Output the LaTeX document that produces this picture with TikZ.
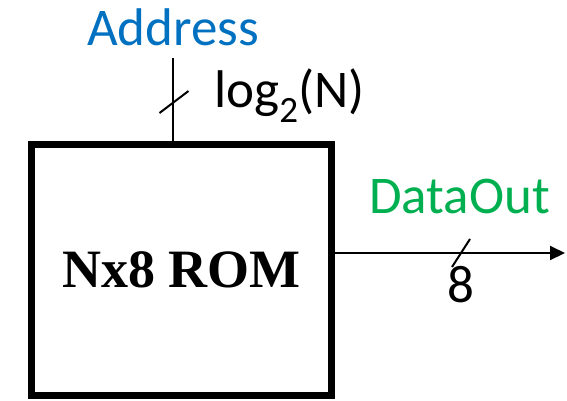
\documentclass[tikz,border=0pt]{standalone}
\usepackage{fontspec}
\setmainfont{Liberation Serif}
\newfontfamily\carlito{Carlito}
\usepackage{tikz}
\usetikzlibrary{calc,arrows.meta}
\definecolor{addrblue}{HTML}{0070C0}
\definecolor{outgreen}{HTML}{00B050}

\tikzset{
  rombox/.style={draw,line width=7pt,minimum width=300.5pt,minimum height=251.5pt,
    inner sep=0pt,font=\bfseries\fontsize{54}{54}\selectfont},
  wire/.style={line width=2pt},
  lbl/.style={anchor=base west,inner sep=0pt,font=\carlito\fontsize{53}{53}\selectfont}
}

\begin{document}
\begin{tikzpicture}[x=1pt,y=-1pt]
  \useasboundingbox (0,0) rectangle (567,400);
  \node[rombox] (rom) at (181.25,269.75) {Nx8 ROM};
  % address bus into the top
  \coordinate (ain) at (173,58);
  \coordinate (aslash) at (174,102);
  \draw[wire] (ain) -- (ain |- rom.north);
  \draw[wire] ($(aslash)+(-14.5,11)$) -- ($(aslash)+(14.5,-11)$);
  \node[lbl,addrblue] (addr) at (87,45) {Address};
  \node[lbl] (awidth) at (214,107) {log\textsubscript{2}(N)};
  % data bus out of the right side
  \coordinate (dout) at (565,253);
  \coordinate (dslash) at (461,253);
  \draw[wire,-{Triangle[length=15pt,width=14pt]}] (rom.east |- dout) -- (dout);
  \draw[wire] ($(dslash)+(-9,14)$) -- ($(dslash)+(9,-14)$);
  \node[lbl,outgreen] (dname) at (369,213) {DataOut};
  \node[lbl] (dwidth) at (447,302) {8};
\end{tikzpicture}
\end{document}
